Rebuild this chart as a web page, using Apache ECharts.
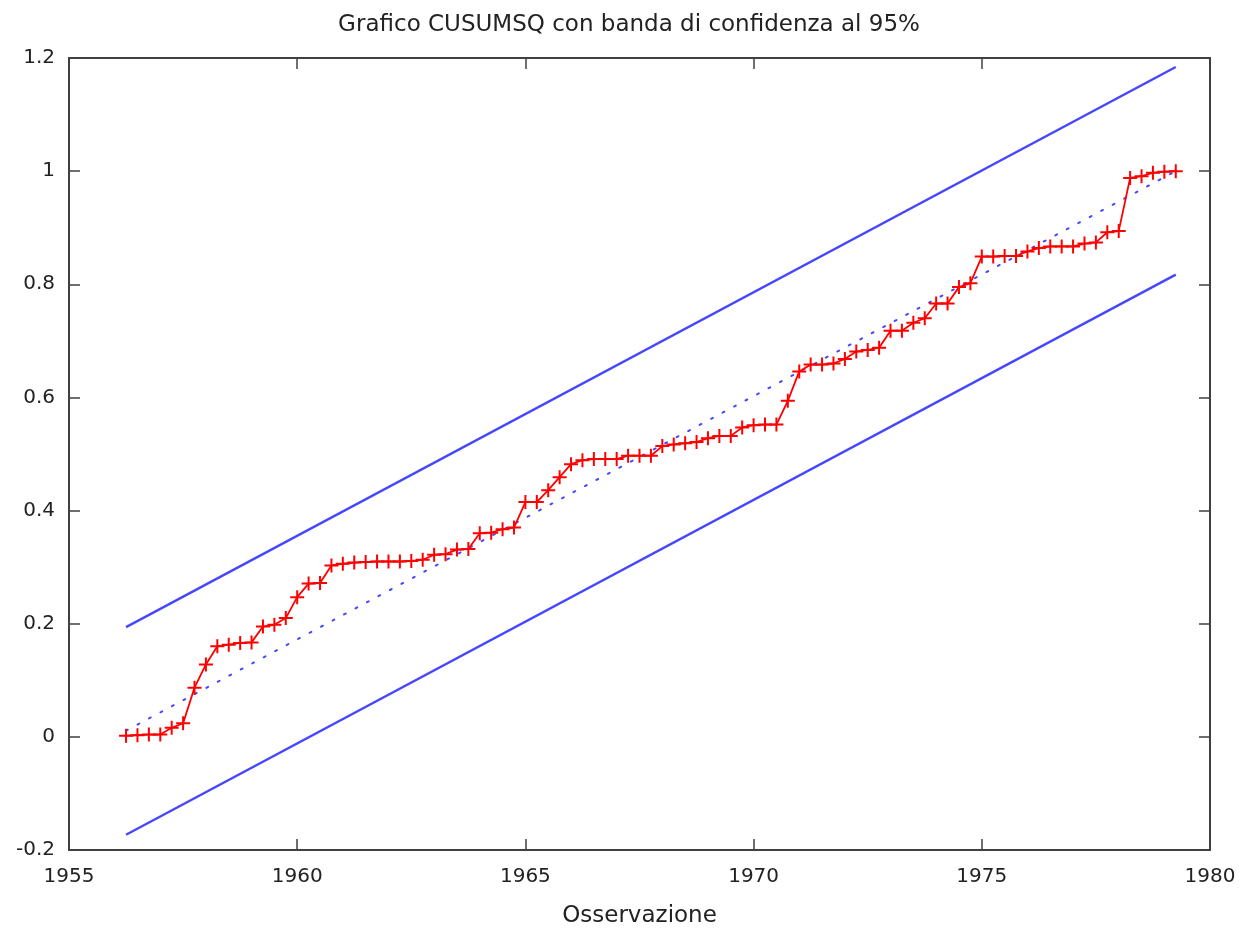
<!DOCTYPE html>
<html>
<head>
<meta charset="utf-8">
<title>CUSUMSQ</title>
<script src="https://cdn.jsdelivr.net/npm/echarts@6/dist/echarts.min.js"></script>
<style>
  html, body { margin: 0; padding: 0; background: #ffffff; overflow: hidden; }
  #chart { width: 1258px; height: 933px; }
</style>
</head>
<body>
<div id="chart"></div>
<script>
// Quarterly observations: first period and step (years)
const firstObs = 1956.25;
const step = 0.25;

// CUSUMSQ statistic, one value per quarter
const cusumsq = [
  0.002, 0.003, 0.004, 0.004, 0.016, 0.024, 0.087, 0.128, 0.160, 0.163,
  0.166, 0.167, 0.195, 0.198, 0.210, 0.247, 0.271, 0.272, 0.303, 0.306,
  0.308, 0.309, 0.310, 0.310, 0.310, 0.311, 0.313, 0.322, 0.323, 0.331,
  0.332, 0.360, 0.361, 0.367, 0.370, 0.415, 0.415, 0.436, 0.459, 0.482,
  0.489, 0.491, 0.491, 0.491, 0.497, 0.497, 0.497, 0.514, 0.517, 0.519,
  0.521, 0.528, 0.532, 0.532, 0.547, 0.551, 0.552, 0.552, 0.594, 0.646,
  0.658, 0.658, 0.660, 0.668, 0.681, 0.684, 0.688, 0.718, 0.718, 0.732,
  0.740, 0.766, 0.766, 0.795, 0.802, 0.849, 0.849, 0.850, 0.850, 0.858,
  0.864, 0.867, 0.867, 0.867, 0.872, 0.874, 0.892, 0.894, 0.988, 0.991,
  0.997, 0.999, 1.000
];

// Straight reference lines: [x, y] at first and last observation
const expectedLine = [[1956.25, 0.011], [1979.25, 1.000]];
const upperBand    = [[1956.25, 0.194], [1979.25, 1.184]];
const lowerBand    = [[1956.25, -0.173], [1979.25, 0.817]];

// Axis ticks
const xTicks = [1955, 1960, 1965, 1970, 1975, 1980];
const yTicks = [-0.2, 0, 0.2, 0.4, 0.6, 0.8, 1, 1.2];

const titleText = 'Grafico CUSUMSQ con banda di confidenza al 95%';
const xName = 'Osservazione';

const font = 'DejaVu Sans, Verdana, sans-serif';
const textColor = '#222222';
const frameColor = '#404040';
const red = '#ff0000';
const blue = '#4646ff';

const cusumData = cusumsq.map((v, i) => [firstObs + i * step, v]);

const frameLine = { show: true, onZero: false, lineStyle: { color: frameColor, width: 2 } };
const innerTick = { show: true, inside: true, length: 11, lineStyle: { color: frameColor, width: 1.5 } };

const xCommon = {
  type: 'value',
  min: xTicks[0],
  max: xTicks[xTicks.length - 1],
  interval: xTicks[1] - xTicks[0],
  splitLine: { show: false },
  axisLine: frameLine,
  axisTick: innerTick
};
const yCommon = {
  type: 'value',
  min: yTicks[0],
  max: yTicks[yTicks.length - 1],
  interval: 0.2,
  splitLine: { show: false },
  axisLine: frameLine,
  axisTick: innerTick
};

const chart = echarts.init(document.getElementById('chart'), null, { renderer: 'canvas' });

chart.setOption({
  animation: false,
  backgroundColor: '#ffffff',
  title: {
    text: titleText,
    left: 'center',
    top: 9,
    textStyle: { fontFamily: font, fontSize: 23, fontWeight: 'normal', color: textColor }
  },
  grid: { left: 69, right: 48, top: 58, bottom: 76, containLabel: false },
  xAxis: [
    Object.assign({}, xCommon, {
      position: 'bottom',
      name: xName,
      nameLocation: 'middle',
      nameGap: 55,
      nameTextStyle: { fontFamily: font, fontSize: 23, color: textColor },
      axisLabel: {
        fontFamily: font, fontSize: 20, color: textColor, margin: 17,
        formatter: v => String(v)
      }
    }),
    Object.assign({}, xCommon, { position: 'top', axisLabel: { show: false } })
  ],
  yAxis: [
    Object.assign({}, yCommon, {
      position: 'left',
      axisLabel: {
        fontFamily: font, fontSize: 20, color: textColor, margin: 14,
        formatter: v => String(parseFloat(v.toFixed(1)))
      }
    }),
    Object.assign({}, yCommon, { position: 'right', axisLabel: { show: false } })
  ],
  series: [
    {
      name: 'upper',
      type: 'line',
      data: upperBand,
      showSymbol: false,
      silent: true,
      lineStyle: { color: blue, width: 2.4 },
      z: 2
    },
    {
      name: 'lower',
      type: 'line',
      data: lowerBand,
      showSymbol: false,
      silent: true,
      lineStyle: { color: blue, width: 2.4 },
      z: 2
    },
    {
      name: 'expected',
      type: 'line',
      data: expectedLine,
      showSymbol: false,
      silent: true,
      lineStyle: { color: blue, width: 2, type: [2, 11], cap: 'round' },
      z: 2
    },
    {
      name: 'CUSUMSQ',
      type: 'line',
      data: cusumData,
      symbol: 'path://M5 0V10M0 5H10',
      symbolSize: 14,
      showSymbol: true,
      lineStyle: { color: red, width: 1.8 },
      itemStyle: { color: 'transparent', borderColor: red, borderWidth: 2 },
      z: 3
    }
  ]
});
</script>
</body>
</html>
